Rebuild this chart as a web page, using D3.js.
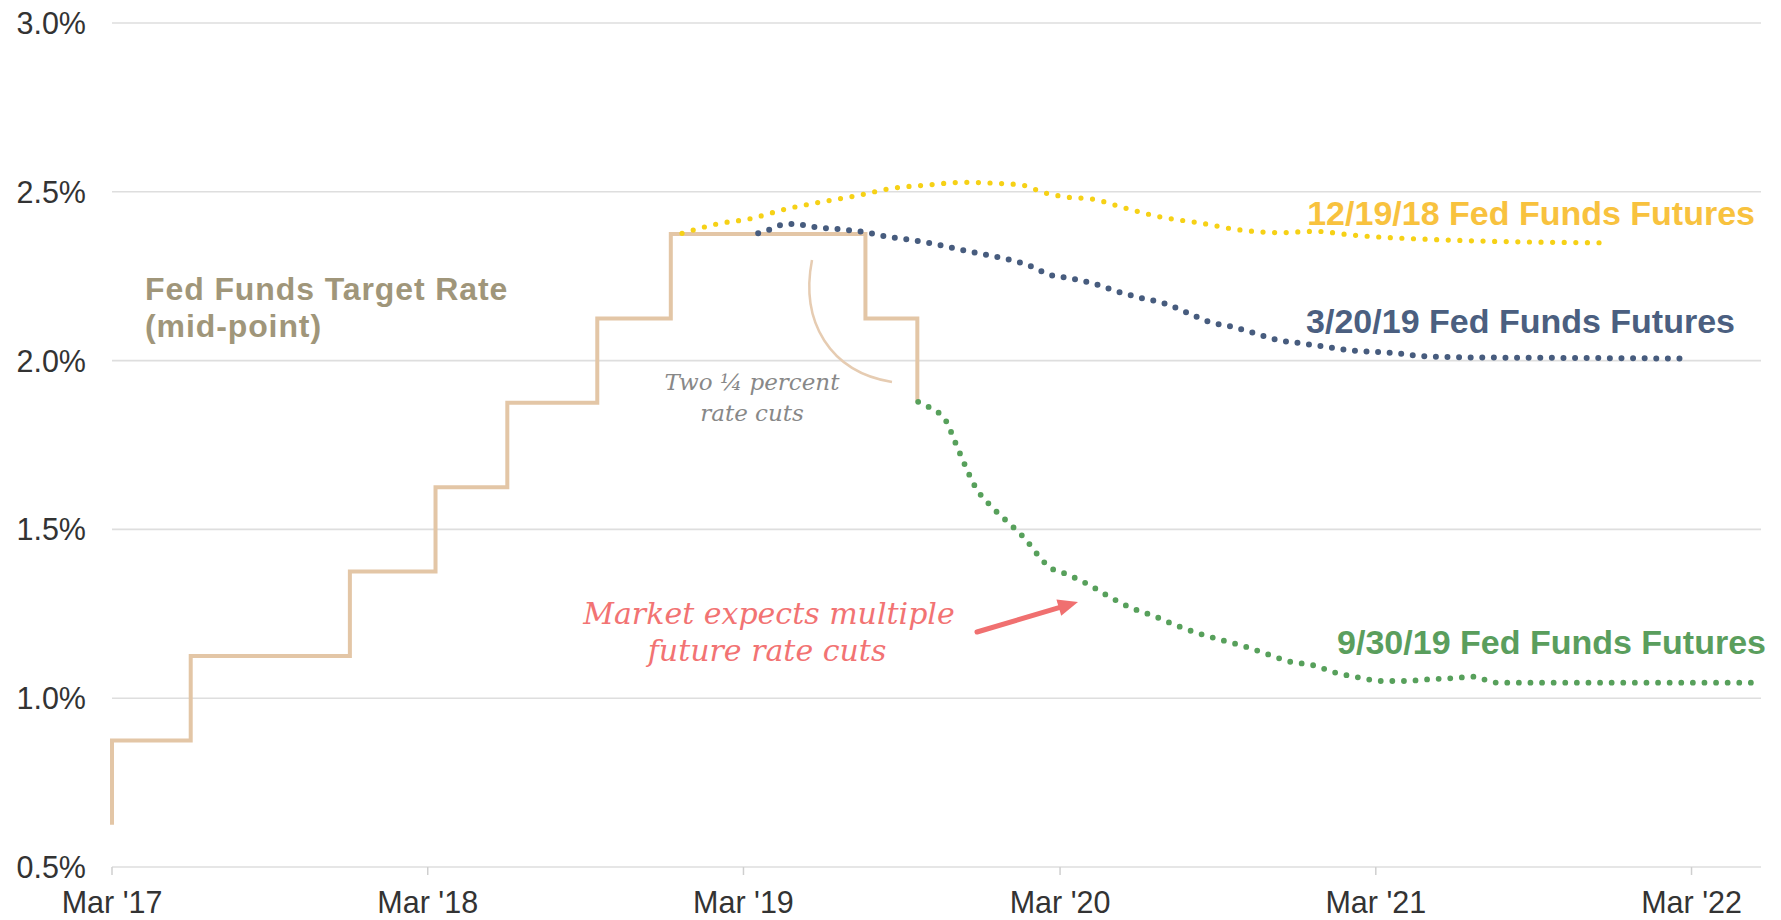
<!DOCTYPE html>
<html>
<head>
<meta charset="utf-8">
<script src="https://cdn.jsdelivr.net/npm/d3@7"></script>
<style>
  html, body { margin: 0; padding: 0; background: #ffffff; }
  svg { display: block; }
</style>
</head>
<body>
<svg id="chart" width="1781" height="920"></svg>
<script>
// ---------------- DATA ----------------
const yTickValues = [0.5, 1.0, 1.5, 2.0, 2.5, 3.0];
const yTickLabels = ["0.5%", "1.0%", "1.5%", "2.0%", "2.5%", "3.0%"];

const xTickDates = ["2017-03-01", "2018-03-01", "2019-03-01", "2020-03-01", "2021-03-01", "2022-03-01"];
const xTickLabels = ["Mar '17", "Mar '18", "Mar '19", "Mar '20", "Mar '21", "Mar '22"];

// Fed Funds target rate (mid-point), step series
const targetDates = ["2017-03-01", "2017-03-01", "2017-05-31", "2017-12-01", "2018-03-10", "2018-06-01",
                     "2018-09-13", "2018-12-07", "2019-07-20", "2019-09-18"];
const targetRates = [0.625, 0.875, 1.125, 1.375, 1.625, 1.875, 2.125, 2.375, 2.125, 1.875];

// 12/19/18 Fed Funds Futures
const futDec18Dates = ["2018-12-20", "2019-01-30", "2019-03-10", "2019-04-19", "2019-05-30", "2019-07-09",
                       "2019-08-19", "2019-09-29", "2019-11-10", "2019-12-20", "2020-01-17", "2020-02-12",
                       "2020-03-10", "2020-04-06", "2020-05-15", "2020-06-24", "2020-08-09", "2020-09-25",
                       "2020-11-10", "2020-12-20", "2021-02-01", "2021-05-24", "2021-11-15"];
const futDec18Values = [2.377, 2.405, 2.421, 2.449, 2.470, 2.488, 2.510, 2.520, 2.528, 2.525, 2.520, 2.497,
                        2.484, 2.479, 2.452, 2.426, 2.408, 2.387, 2.379, 2.383, 2.372, 2.357, 2.349];

// 3/20/19 Fed Funds Futures
const futMar19Dates = ["2019-03-18", "2019-04-01", "2019-04-14", "2019-04-27", "2019-05-24", "2019-06-20",
                       "2019-07-18", "2019-08-14", "2019-09-11", "2019-10-08", "2019-11-04", "2019-12-01",
                       "2019-12-28", "2020-01-24", "2020-02-18", "2020-03-15", "2020-04-10", "2020-05-07",
                       "2020-06-03", "2020-06-29", "2020-07-25", "2020-08-20", "2020-09-16", "2020-10-12",
                       "2020-11-08", "2020-12-05", "2021-01-02", "2021-01-29", "2021-02-26", "2021-03-24",
                       "2021-04-20", "2021-06-01", "2021-10-01", "2022-02-19"];
const futMar19Values = [2.377, 2.389, 2.402, 2.405, 2.395, 2.389, 2.381, 2.367, 2.357, 2.345, 2.330, 2.316,
                        2.302, 2.283, 2.254, 2.243, 2.227, 2.204, 2.185, 2.170, 2.143, 2.115, 2.100, 2.081,
                        2.061, 2.051, 2.041, 2.031, 2.026, 2.022, 2.014, 2.010, 2.008, 2.006];

// 9/30/19 Fed Funds Futures
const futSep19Dates = ["2019-09-19", "2019-10-01", "2019-10-12", "2019-10-21", "2019-11-01", "2019-11-12",
                       "2019-11-24", "2019-12-11", "2019-12-31", "2020-01-21", "2020-02-07", "2020-02-16",
                       "2020-03-11", "2020-04-04", "2020-04-28", "2020-05-21", "2020-06-18", "2020-07-12",
                       "2020-08-08", "2020-09-04", "2020-10-01", "2020-10-26", "2020-11-22", "2020-12-18",
                       "2021-01-13", "2021-02-10", "2021-03-07", "2021-04-03", "2021-05-01", "2021-05-28",
                       "2021-06-25", "2021-07-06", "2021-07-20", "2022-05-18"];
const futSep19Values = [1.878, 1.863, 1.847, 1.822, 1.757, 1.691, 1.626, 1.572, 1.523, 1.471, 1.416, 1.392,
                        1.365, 1.335, 1.299, 1.269, 1.243, 1.217, 1.192, 1.172, 1.153, 1.131, 1.108, 1.098,
                        1.076, 1.061, 1.051, 1.051, 1.056, 1.059, 1.064, 1.054, 1.046, 1.046];

const seriesNames = ["12/19/18 Fed Funds Futures", "3/20/19 Fed Funds Futures", "9/30/19 Fed Funds Futures"];

// ---------------- CHART ----------------
const parse = d3.utcParse("%Y-%m-%d");
const svg = d3.select("#chart");

const x = d3.scaleUtc()
  .domain([parse("2017-03-01"), parse("2022-05-18")])
  .range([112, 1759]);
const y = d3.scaleLinear()
  .domain([0.5, 3.0])
  .range([867, 23]);

const sans = "'Liberation Sans', Arial, Helvetica, sans-serif";
const serif = "'DejaVu Serif', Georgia, serif";

// gridlines
svg.append("g").selectAll("line")
  .data(yTickValues)
  .join("line")
  .attr("x1", x.range()[0]).attr("x2", x.range()[1] + 2)
  .attr("y1", d => y(d)).attr("y2", d => y(d))
  .attr("stroke", "#dedede")
  .attr("stroke-width", 1.6);

// y labels
svg.append("g").selectAll("text")
  .data(yTickValues)
  .join("text")
  .attr("x", 86)
  .attr("y", d => y(d) + 11)
  .attr("text-anchor", "end")
  .attr("font-family", sans)
  .attr("font-size", 30.5)
  .attr("fill", "#333333")
  .text((d, i) => yTickLabels[i]);

// x axis ticks + labels
const xTicks = xTickDates.map(parse);
svg.append("g").selectAll("line")
  .data(xTicks)
  .join("line")
  .attr("x1", d => x(d)).attr("x2", d => x(d))
  .attr("y1", y(0.5)).attr("y2", y(0.5) + 8)
  .attr("stroke", "#cfcfcf")
  .attr("stroke-width", 1.5);
svg.append("g").selectAll("text")
  .data(xTicks)
  .join("text")
  .attr("x", d => x(d))
  .attr("y", 913)
  .attr("text-anchor", "middle")
  .attr("font-family", sans)
  .attr("font-size", 30.5)
  .attr("fill", "#333333")
  .text((d, i) => xTickLabels[i]);

// target rate step line
const target = targetDates.map((d, i) => ({ date: parse(d), v: targetRates[i] }));
svg.append("path")
  .datum(target)
  .attr("fill", "none")
  .attr("stroke", "#e3c6a6")
  .attr("stroke-width", 4)
  .attr("stroke-linejoin", "miter")
  .attr("d", d3.line().x(d => x(d.date)).y(d => y(d.v)).curve(d3.curveStepAfter));

// futures dotted lines
const futures = [
  { dates: futDec18Dates, values: futDec18Values, color: "#f6d116", w: 5.2 },
  { dates: futMar19Dates, values: futMar19Values, color: "#475c7e", w: 6 },
  { dates: futSep19Dates, values: futSep19Values, color: "#57a05b", w: 5.8 }
];
const fline = d3.line().x(d => x(d.date)).y(d => y(d.v)).curve(d3.curveMonotoneX);
futures.forEach(s => {
  const pts = s.dates.map((d, i) => ({ date: parse(d), v: s.values[i] }));
  svg.append("path")
    .datum(pts)
    .attr("fill", "none")
    .attr("stroke", s.color)
    .attr("stroke-width", s.w)
    .attr("stroke-linecap", "round")
    .attr("stroke-dasharray", "0 11.6")
    .attr("d", fline);
});

// series labels
const labelSpec = [
  { text: seriesNames[0], x: 1755, y: 225, color: "#f8c23e" },
  { text: seriesNames[1], x: 1735, y: 333, color: "#4b5f80" },
  { text: seriesNames[2], x: 1766, y: 654, color: "#5a9e5d" }
];
svg.append("g").selectAll("text")
  .data(labelSpec)
  .join("text")
  .attr("x", d => d.x)
  .attr("y", d => d.y)
  .attr("text-anchor", "end")
  .attr("font-family", sans)
  .attr("font-weight", "bold")
  .attr("font-size", 34)
  .attr("fill", d => d.color)
  .text(d => d.text);

// Fed Funds Target Rate label
const tl = svg.append("text")
  .attr("font-family", sans)
  .attr("font-weight", "bold")
  .attr("font-size", 32)
  .attr("letter-spacing", 0.9)
  .attr("fill", "#a0967a");
tl.append("tspan").attr("x", 145).attr("y", 300).text("Fed Funds Target Rate");
tl.append("tspan").attr("x", 145).attr("y", 337).text("(mid-point)");

// "Two 1/4 percent rate cuts" annotation
const ta = svg.append("text")
  .attr("font-family", serif)
  .attr("font-style", "italic")
  .attr("font-size", 23)
  .attr("text-anchor", "middle")
  .attr("fill", "#888888");
ta.append("tspan").attr("x", 752).attr("y", 390).text("Two ¼ percent");
ta.append("tspan").attr("x", 752).attr("y", 421).text("rate cuts");

svg.append("path")
  .attr("d", "M812,260 C800,322 830,372 892,382")
  .attr("fill", "none")
  .attr("stroke", "#e6ccb2")
  .attr("stroke-width", 2.5);

// Market expects annotation
const ma = svg.append("text")
  .attr("font-family", serif)
  .attr("font-style", "italic")
  .attr("font-size", 30)
  .attr("text-anchor", "middle")
  .attr("fill", "#f27373");
ma.append("tspan").attr("x", 769).attr("y", 624).text("Market expects multiple");
ma.append("tspan").attr("x", 767).attr("y", 661).text("future rate cuts");

// arrow
const a0 = [977, 632], a1 = [1078, 602];
const dx = a1[0] - a0[0], dy = a1[1] - a0[1], len = Math.hypot(dx, dy);
const ux = dx / len, uy = dy / len, px = -uy, py = ux;
const hl = 20, hw = 8.5;
const bx = a1[0] - ux * hl, by = a1[1] - uy * hl;
svg.append("line")
  .attr("x1", a0[0]).attr("y1", a0[1])
  .attr("x2", bx + ux * 2).attr("y2", by + uy * 2)
  .attr("stroke", "#f07070")
  .attr("stroke-width", 5)
  .attr("stroke-linecap", "round");
svg.append("polygon")
  .attr("points", [[a1[0], a1[1]], [bx + px * hw, by + py * hw], [bx - px * hw, by - py * hw]].map(p => p.join(",")).join(" "))
  .attr("fill", "#f07070");
</script>
</body>
</html>
